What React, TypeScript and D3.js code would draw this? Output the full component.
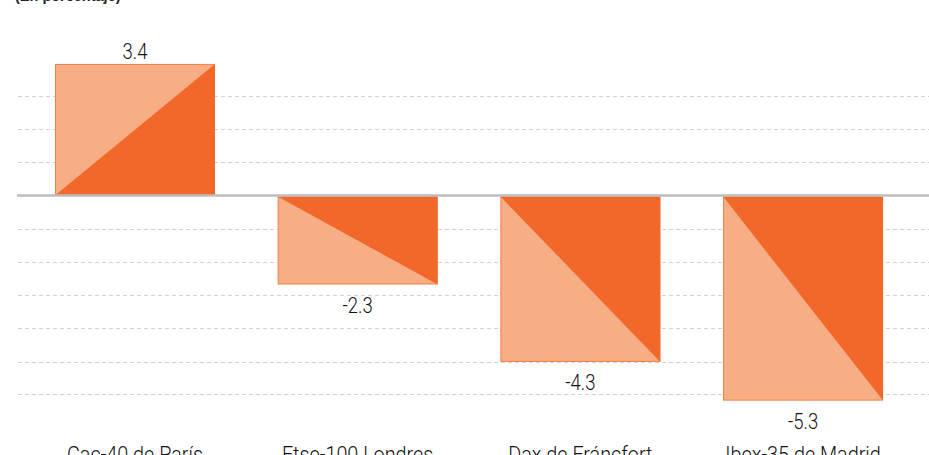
import React from "react";
import * as d3 from "d3";

const categories = ["Cac-40 de París", "Ftse-100 Londres", "Dax de Fráncfort", "Ibex-35 de Madrid"];
const values = [3.4, -2.3, -4.3, -5.3];
const valueLabels = ["3.4", "-2.3", "-4.3", "-5.3"];
const gridValues = [2.57, 1.71, 0.86, -0.86, -1.71, -2.57, -3.43, -4.29, -5.14];
const title = "(En porcentaje)";

const W = 929;
const H = 455;
const LIGHT = "#F8AE85";
const DARK = "#F2682A";
const BORDER = "#F37E45";
const FONT = "Roboto, 'Liberation Sans', sans-serif";

function CondText({ x, y, size, sx, children }: { x: number; y: number; size: number; sx: number; children: string }) {
  return (
    <text transform={`translate(${x},${y}) scale(${sx},1)`} textAnchor="middle" fontFamily={FONT}
      fontWeight={300} fontSize={size} fill="#111">
      {children}
    </text>
  );
}

export default function App() {
  const x = d3.scaleBand<string>().domain(categories).range([18, 920]).paddingInner(0.2816).paddingOuter(0.166);
  const y = d3.scaleLinear().domain([-6, 4]).range([427.7, 40.7]);
  const y0 = y(0);

  return (
    <svg width={W} height={H} style={{ position: "absolute", left: 0, top: 0, background: "#fff" }}>
      <text x={15} y={0.5} fontFamily="'Liberation Sans', Arial, sans-serif" fontWeight="bold" fontSize={14.5} fill="#222">
        {title}
      </text>
      {gridValues.map((g, i) => (
        <line key={"g" + i} x1={18} x2={W} y1={Math.round(y(g)) + 0.5} y2={Math.round(y(g)) + 0.5}
          stroke="#d2d2d2" strokeWidth={1} strokeDasharray="4,3" />
      ))}
      {categories.map((c, i) => {
        const v = values[i];
        const x0 = x(c)!;
        const x1 = x0 + x.bandwidth();
        const yb = y0 + (v < 0 ? 1 : 0);
        const ye = y(v);
        const top = Math.min(yb, ye);
        const h = Math.abs(ye - yb);
        const tri = d3.line()([[x0, yb], [x1, ye], [x1, yb]]) + "Z";
        const cx = x0 + x.bandwidth() / 2;
        return (
          <g key={c}>
            <rect x={x0 + 0.5} y={top + 0.5} width={x.bandwidth() - 1} height={h - 1} fill={LIGHT} stroke={BORDER} strokeWidth={1} />
            <path d={tri} fill={DARK} />
            <CondText x={cx} y={v >= 0 ? ye - 5 : ye + 28} size={21.5} sx={0.86}>{valueLabels[i]}</CondText>
            <CondText x={cx} y={462} size={22.5} sx={0.88}>{c}</CondText>
          </g>
        );
      })}
      <line x1={17} x2={W} y1={y0} y2={y0} stroke="#bdbdbd" strokeWidth={2.5} />
    </svg>
  );
}
